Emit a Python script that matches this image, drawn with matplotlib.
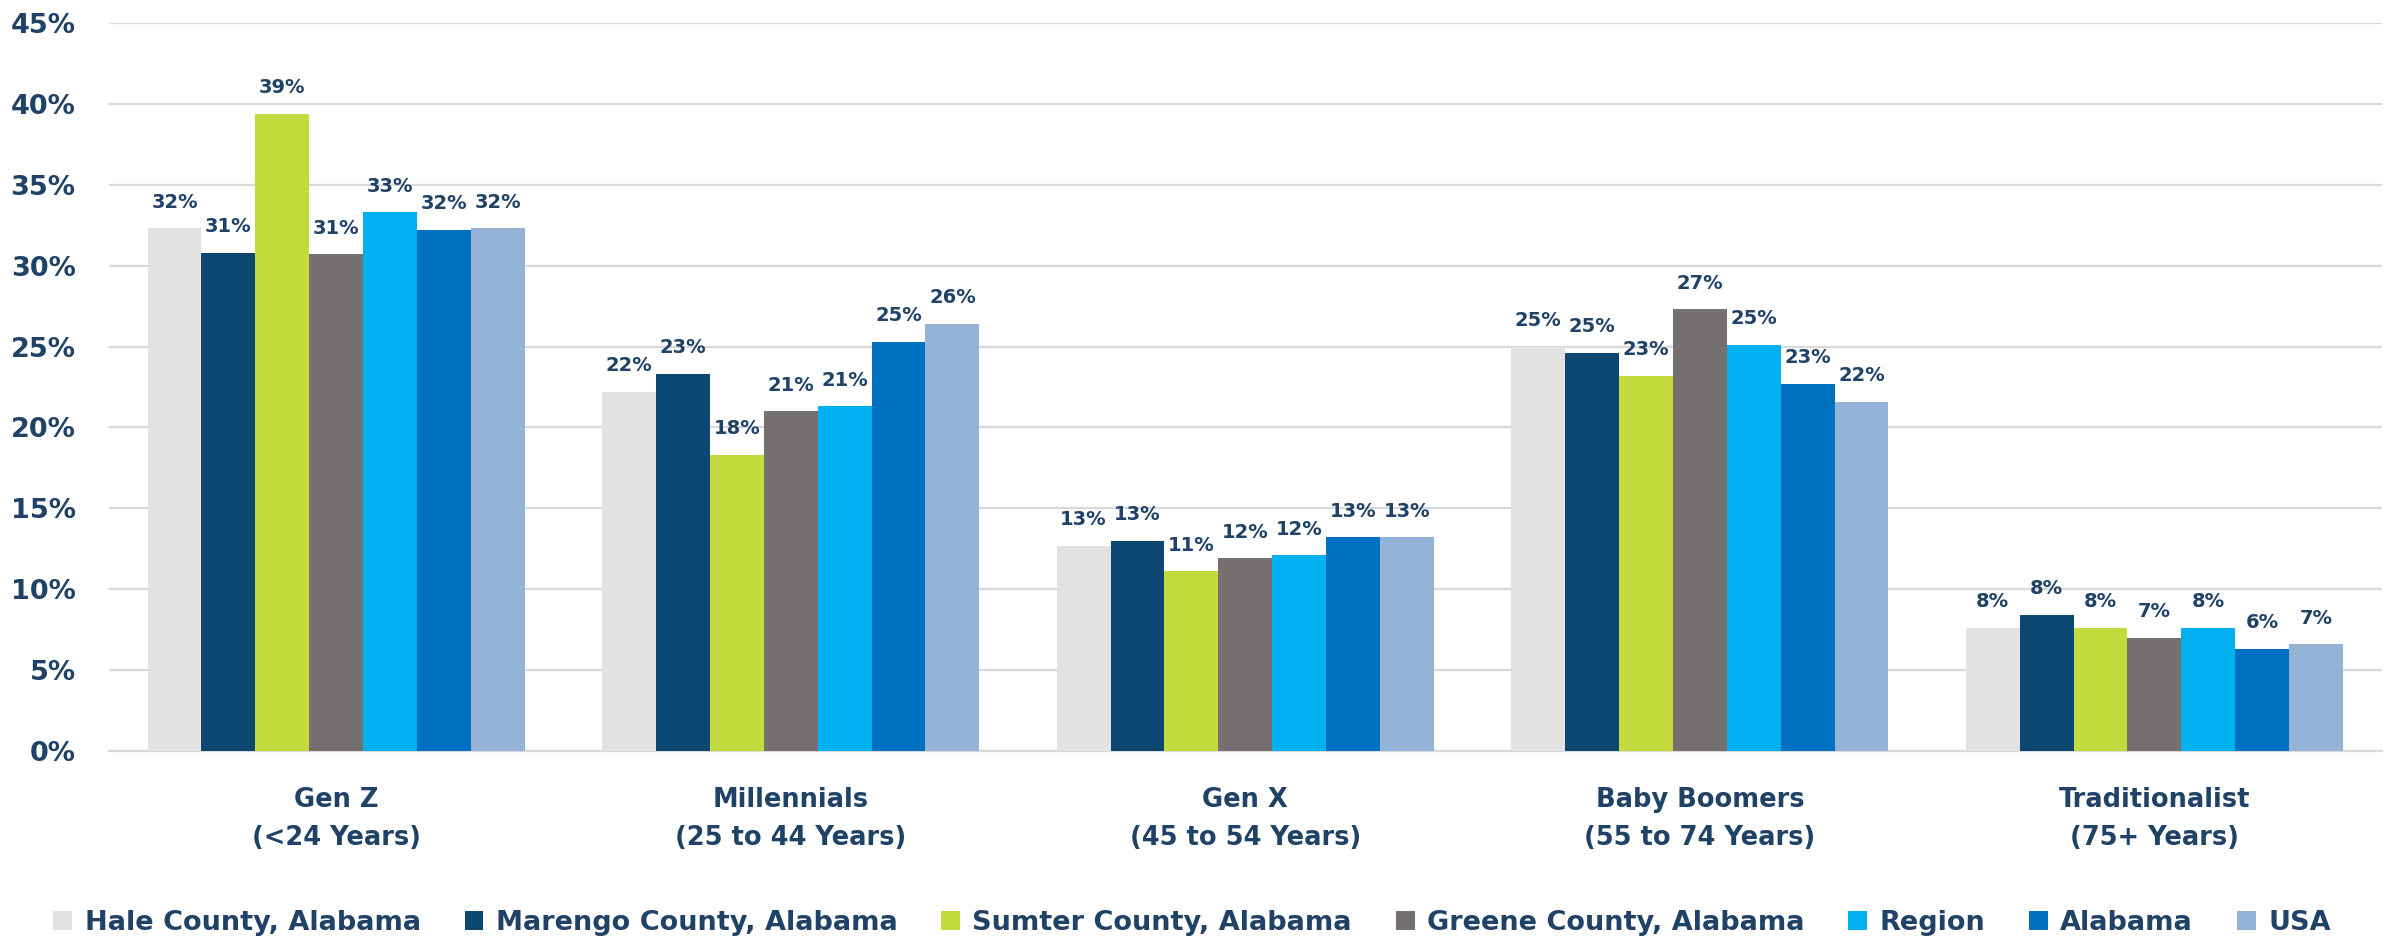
"""Generational population shares by geography, grouped bar chart."""

import matplotlib.pyplot as plt
import numpy as np
from matplotlib.ticker import FuncFormatter

# Age cohorts (x categories) and the geographies compared (bar series)
generations = [
    "Gen Z\n(<24 Years)",
    "Millennials\n(25 to 44 Years)",
    "Gen X\n(45 to 54 Years)",
    "Baby Boomers\n(55 to 74 Years)",
    "Traditionalist\n(75+ Years)",
]
geographies = [
    "Hale County, Alabama",
    "Marengo County, Alabama",
    "Sumter County, Alabama",
    "Greene County, Alabama",
    "Region",
    "Alabama",
    "USA",
]

# Share of population (%) per generation, one list per geography
hale = [32.3, 22.2, 12.7, 25.0, 7.6]
marengo = [30.8, 23.3, 13.0, 24.6, 8.4]
sumter = [39.4, 18.3, 11.1, 23.2, 7.6]
greene = [30.7, 21.0, 11.9, 27.3, 7.0]
region = [33.3, 21.3, 12.1, 25.1, 7.6]
alabama = [32.2, 25.3, 13.2, 22.7, 6.3]
usa = [32.3, 26.4, 13.2, 21.6, 6.6]

series = [hale, marengo, sumter, greene, region, alabama, usa]
colors = ["#E2E2E2", "#0B4771", "#C4DB3E", "#767171", "#00B0F0", "#0070C0", "#95B3D7"]

TEXT = "#1F4266"
FONT = "DejaVu Sans"

plt.rcParams["font.family"] = FONT
plt.rcParams["font.weight"] = "bold"

fig = plt.figure(figsize=(23.84, 9.5), dpi=100)
ax = fig.add_axes([0.0457, 0.2095, 0.9533, 0.7663])

x = np.arange(len(generations))
width = 0.83 / len(series)

for i, (name, vals, col) in enumerate(zip(geographies, series, colors)):
    pos = x + (i - (len(series) - 1) / 2) * width
    bars = ax.bar(pos, vals, width=width, color=col, label=name, zorder=3)
    for b, v in zip(bars, vals):
        ax.annotate(f"{v:.0f}%", (b.get_x() + b.get_width() / 2, v),
                    xytext=(0, 12), textcoords="offset points",
                    ha="center", va="bottom", fontsize=14,
                    fontweight="bold", color=TEXT, zorder=4)

ax.set_xlim(-0.5, len(generations) - 0.5)
ax.set_ylim(0, 45)
ax.set_yticks(np.arange(0, 46, 5))
ax.yaxis.set_major_formatter(FuncFormatter(lambda v, _: f"{v:.0f}%"))
ax.set_xticks(x)
ax.set_xticklabels(generations, linespacing=1.6)

ax.grid(axis="y", color="#D9D9D9", linewidth=1.6, zorder=0)
for side in ["top", "right", "left"]:
    ax.spines[side].set_visible(False)
ax.spines["bottom"].set_color("#D9D9D9")
ax.spines["bottom"].set_linewidth(1.6)

ax.tick_params(axis="both", length=0, colors=TEXT, labelsize=18.5)
ax.tick_params(axis="y", labelsize=19.5, pad=24)
ax.tick_params(axis="x", pad=26)
for lab in ax.get_xticklabels() + ax.get_yticklabels():
    lab.set_fontweight("bold")

fig.legend(loc="center", bbox_to_anchor=(0.5, 0.028), ncol=len(geographies),
           frameon=False, handlelength=0.7, handleheight=0.7,
           handletextpad=0.45, columnspacing=1.62, labelcolor=TEXT,
           prop={"family": FONT, "weight": "bold", "size": 19.5})

fig.savefig("out.png", dpi=100, facecolor="white")
